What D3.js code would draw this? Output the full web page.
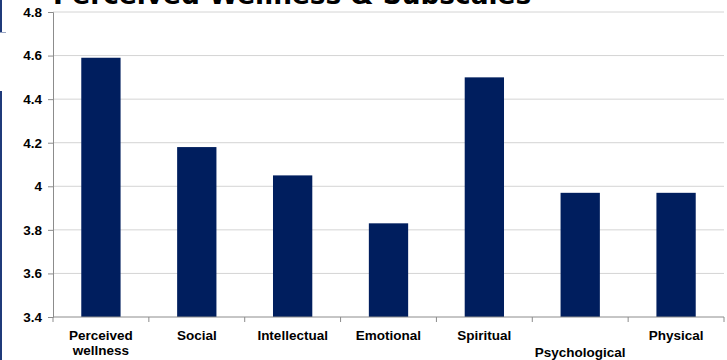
<!DOCTYPE html>
<html><head><meta charset="utf-8">
<script src="https://cdn.jsdelivr.net/npm/d3@7"></script>
<style>body{margin:0;background:#fff}svg{display:block}</style>
</head><body>
<script>
const categories = ["Perceived wellness","Social","Intellectual","Emotional","Spiritual","Psychological","Physical"];
const values = [4.59, 4.18, 4.05, 3.83, 4.50, 3.97, 3.97];
const yTicks = [3.4, 3.6, 3.8, 4, 4.2, 4.4, 4.6, 4.8];
const title = "Perceived Wellness & Subscales";

const W = 727, H = 360;
const m = {left: 53, right: 3, top: 12, bottom: 43};
const svg = d3.select("body").append("svg").attr("width", W).attr("height", H);

// slide artifacts at left edge
svg.append("rect").attr("x",0).attr("y",0).attr("width",2).attr("height",33).attr("fill","#1f3a7a");
svg.append("rect").attr("x",0).attr("y",32).attr("width",6).attr("height",1).attr("fill","#9aa6c4");
svg.append("rect").attr("x",0).attr("y",91).attr("width",2).attr("height",269).attr("fill","#1f3a7a");

const x = d3.scaleBand().domain(categories).range([m.left, W - m.right]).paddingInner(0.59).paddingOuter(0.295);
const xOuter = d3.scaleBand().domain(categories).range([m.left, W - m.right]);
const y = d3.scaleLinear().domain([3.4, 4.8]).range([H - m.bottom, m.top]);

// gridlines
svg.append("g").selectAll("line").data(yTicks.slice(1)).join("line")
  .attr("x1", m.left).attr("x2", W - m.right)
  .attr("y1", d => y(d)).attr("y2", d => y(d))
  .attr("stroke", "#d4d4d4").attr("stroke-width", 1);

// bars
svg.append("g").selectAll("rect").data(values).join("rect")
  .attr("x", (d,i) => x(categories[i])).attr("width", x.bandwidth())
  .attr("y", d => y(d)).attr("height", d => y(3.4) - y(d))
  .attr("fill", "#001e5e");

// y axis
const yAxis = d3.axisLeft(y).tickValues(yTicks).tickSize(5).tickPadding(6)
  .tickFormat(d => d3.format("")(+d.toFixed(1)));
const gy = svg.append("g").attr("transform", `translate(${m.left},0)`).call(yAxis);
gy.select(".domain").attr("stroke", "#8c8c8c");
gy.selectAll(".tick line").attr("stroke", "#8c8c8c");
gy.selectAll(".tick text").attr("font-family", "Liberation Sans, Arial, sans-serif")
  .attr("font-weight", "bold").attr("font-size", 13.5).attr("fill", "#000");

// x axis line + ticks at band boundaries
svg.append("line").attr("x1", m.left).attr("x2", W - m.right)
  .attr("y1", y(3.4)).attr("y2", y(3.4)).attr("stroke", "#8c8c8c");
const bounds = categories.map(c => xOuter(c)).concat([W - m.right]);
svg.append("g").selectAll("line").data(bounds).join("line")
  .attr("x1", d => d).attr("x2", d => d)
  .attr("y1", y(3.4)).attr("y2", y(3.4) + 5).attr("stroke", "#8c8c8c");

// x labels
const lab = svg.append("g").attr("font-family", "Liberation Sans, Arial, sans-serif")
  .attr("font-weight", "bold").attr("font-size", 13.5).attr("fill", "#000").attr("text-anchor", "middle");
categories.forEach((c, i) => {
  const cx = xOuter(c) + xOuter.bandwidth() / 2;
  let lines = c === "Perceived wellness" ? ["Perceived", "wellness"] : [c];
  const base = c === "Psychological" ? 357 : 340;
  const t = lab.append("text").attr("x", cx).attr("y", base);
  lines.forEach((l, k) => t.append("tspan").attr("x", cx).attr("dy", k === 0 ? 0 : 15).text(l));
});

// title (cut off at the top, as in the reference)
svg.append("text").attr("x", 53).attr("y", 4)
  .attr("font-family", "DejaVu Sans, Verdana, sans-serif").attr("font-weight", "bold")
  .attr("font-size", 26.4).attr("fill", "#000").text(title);
</script>
</body></html>
